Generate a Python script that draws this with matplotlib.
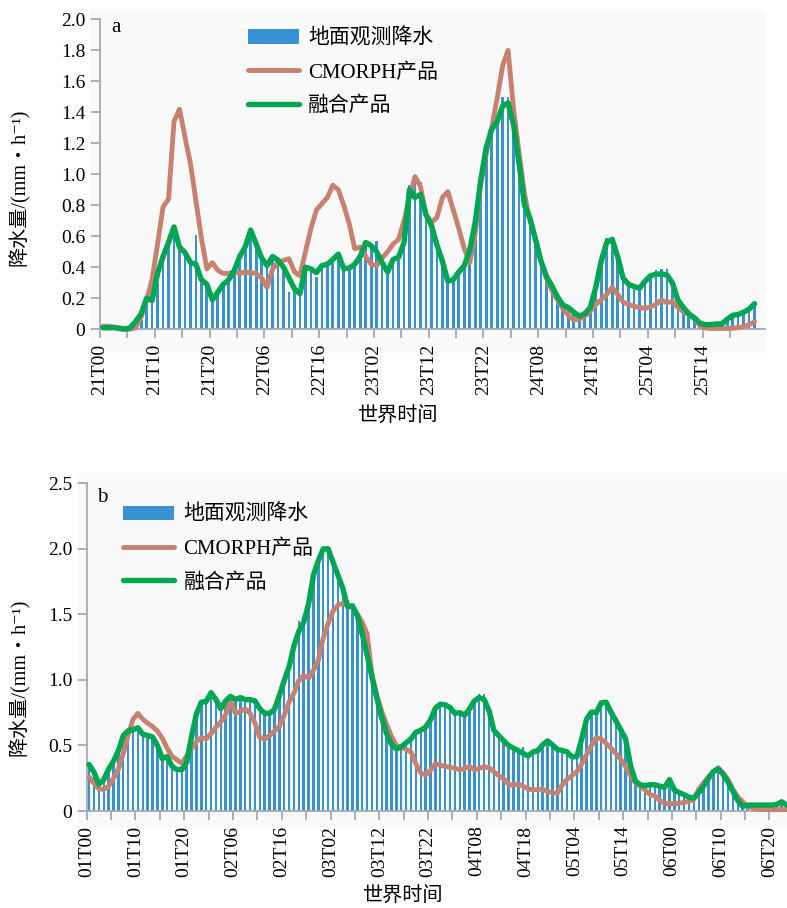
import numpy as np
import matplotlib.pyplot as plt

plt.rcParams['font.family'] = ['Liberation Serif', 'Noto Sans CJK SC', 'DejaVu Sans']

# ---- panel a: hourly precipitation, 21T00 - 25T23 (mm/h) ----
obs_a = [0, 0, 0, 0, 0, 0, 0, 0.06, 0.17, 0.18,
         0.30, 0.44, 0.55, 0.60, 0.55, 0.48, 0.42, 0.61, 0.31, 0.28,
         0.20, 0.23, 0.28, 0.31, 0.36, 0.45, 0.51, 0.60, 0.53, 0.45,
         0.40, 0.45, 0.43, 0.38, 0.24, 0.25, 0.22, 0.39, 0.38, 0.335,
         0.40, 0.41, 0.44, 0.47, 0.38, 0.39, 0.41, 0.46, 0.55, 0.53,
         0.57, 0.42, 0.36, 0.44, 0.45, 0.55, 0.93, 0.95, 0.95, 0.72,
         0.66, 0.53, 0.43, 0.30, 0.31, 0.36, 0.40, 0.50, 0.68, 0.95,
         1.15, 1.28, 1.33, 1.50, 1.50, 1.30, 1.05, 0.79, 0.70, 0.57,
         0.43, 0.33, 0.27, 0.20, 0.15, 0.13, 0.10, 0.08, 0.09, 0.13,
         0.26, 0.43, 0.59, 0.59, 0.46, 0.32, 0.28, 0.27, 0.26, 0.30,
         0.34, 0.38, 0.39, 0.39, 0.29, 0.18, 0.13, 0.09, 0.07, 0.03,
         0.02, 0.02, 0.03, 0.03, 0.06, 0.08, 0.09, 0.10, 0.12, 0.15]
cmorph_a = [0.02, 0.02, 0.015, 0.01, 0.005, 0.0, 0.01, 0.08, 0.19, 0.32,
            0.55, 0.79, 0.84, 1.34, 1.42, 1.24, 1.07, 0.83, 0.59, 0.39,
            0.43, 0.38, 0.36, 0.36, 0.37, 0.36, 0.37, 0.365, 0.36, 0.33,
            0.27, 0.39, 0.43, 0.445, 0.455, 0.37, 0.345, 0.50, 0.65, 0.77,
            0.81, 0.85, 0.93, 0.90, 0.80, 0.68, 0.52, 0.53, 0.47, 0.42,
            0.41, 0.46, 0.50, 0.55, 0.58, 0.70, 0.85, 0.985, 0.92, 0.74,
            0.69, 0.72, 0.85, 0.888, 0.77, 0.65, 0.52, 0.43, 0.62, 0.94,
            1.13, 1.30, 1.49, 1.70, 1.80, 1.42, 1.14, 0.87, 0.70, 0.58,
            0.44, 0.33, 0.25, 0.19, 0.135, 0.09, 0.06, 0.065, 0.085, 0.115,
            0.16, 0.19, 0.225, 0.27, 0.225, 0.175, 0.16, 0.148, 0.14, 0.135,
            0.145, 0.16, 0.19, 0.172, 0.18, 0.14, 0.115, 0.095, 0.065, 0.025,
            0.008, 0.005, 0.005, 0.005, 0.005, 0.006, 0.01, 0.018, 0.03, 0.048]
fusion_a = [0.01, 0.01, 0.01, 0.005, 0.0, 0.01, 0.05, 0.10, 0.20, 0.185,
            0.36, 0.47, 0.56, 0.66, 0.53, 0.495, 0.43, 0.42, 0.32, 0.29,
            0.19, 0.24, 0.29, 0.32, 0.38, 0.47, 0.53, 0.64, 0.55, 0.46,
            0.41, 0.47, 0.445, 0.40, 0.33, 0.26, 0.23, 0.40, 0.39, 0.365,
            0.41, 0.42, 0.45, 0.485, 0.39, 0.395, 0.42, 0.47, 0.56, 0.54,
            0.50, 0.43, 0.37, 0.45, 0.465, 0.56, 0.90, 0.85, 0.87, 0.74,
            0.67, 0.545, 0.44, 0.31, 0.32, 0.37, 0.41, 0.51, 0.69, 0.96,
            1.17, 1.29, 1.34, 1.44, 1.46, 1.32, 1.07, 0.80, 0.716, 0.58,
            0.44, 0.34, 0.28, 0.21, 0.157, 0.14, 0.11, 0.085, 0.10, 0.14,
            0.27, 0.44, 0.56, 0.58, 0.47, 0.33, 0.29, 0.275, 0.265, 0.31,
            0.345, 0.355, 0.357, 0.35, 0.30, 0.19, 0.14, 0.10, 0.075, 0.04,
            0.03, 0.03, 0.034, 0.034, 0.065, 0.09, 0.095, 0.11, 0.13, 0.165]
labels_a = ['21T00', '21T10', '21T20', '22T06', '22T16', '23T02',
            '23T12', '23T22', '24T08', '24T18', '25T04', '25T14']
yticks_a = [0, 0.2, 0.4, 0.6, 0.8, 1.0, 1.2, 1.4, 1.6, 1.8, 2.0]
ylabels_a = ['0', '0.2', '0.4', '0.6', '0.8', '1.0', '1.2', '1.4', '1.6', '1.8', '2.0']

# ---- panel b: hourly precipitation, 01T00 - 06T23 (mm/h) ----
obs_b = [0.34, 0.29, 0.20, 0.23, 0.31, 0.37, 0.45, 0.56, 0.60, 0.61,
         0.62, 0.58, 0.57, 0.56, 0.49, 0.39, 0.41, 0.33, 0.31, 0.31,
         0.36, 0.55, 0.73, 0.82, 0.83, 0.90, 0.84, 0.77, 0.83, 0.87,
         0.84, 0.86, 0.84, 0.84, 0.83, 0.77, 0.73, 0.73, 0.77, 0.87,
         0.98, 1.08, 1.24, 1.45, 1.43, 1.56, 1.78, 1.90, 1.99, 1.99,
         1.89, 1.78, 1.69, 1.55, 1.56, 1.48, 1.34, 1.18, 1.01, 0.85,
         0.70, 0.58, 0.50, 0.47, 0.48, 0.51, 0.54, 0.59, 0.61, 0.63,
         0.69, 0.78, 0.81, 0.80, 0.78, 0.74, 0.74, 0.72, 0.77, 0.83,
         0.89, 0.89, 0.76, 0.61, 0.57, 0.53, 0.50, 0.47, 0.46, 0.49,
         0.42, 0.44, 0.45, 0.50, 0.54, 0.50, 0.46, 0.46, 0.44, 0.41,
         0.41, 0.54, 0.69, 0.75, 0.74, 0.82, 0.84, 0.75, 0.68, 0.61,
         0.54, 0.34, 0.22, 0.19, 0.19, 0.20, 0.20, 0.19, 0.18, 0.23,
         0.15, 0.13, 0.12, 0.10, 0.10, 0.13, 0.18, 0.24, 0.29, 0.31,
         0.27, 0.21, 0.14, 0.07, 0.03, 0.04, 0.04, 0.04, 0.04, 0.04,
         0.05, 0.05, 0.07, 0.05]
cmorph_b = [0.26, 0.21, 0.17, 0.165, 0.19, 0.25, 0.32, 0.44, 0.58, 0.70,
            0.745, 0.70, 0.67, 0.645, 0.61, 0.555, 0.48, 0.418, 0.39, 0.364,
            0.42, 0.475, 0.53, 0.56, 0.55, 0.59, 0.64, 0.68, 0.735, 0.835,
            0.745, 0.76, 0.78, 0.745, 0.67, 0.56, 0.55, 0.575, 0.61, 0.645,
            0.73, 0.83, 0.90, 0.995, 1.035, 1.013, 1.075, 1.15, 1.32, 1.43,
            1.525, 1.57, 1.585, 1.57, 1.55, 1.50, 1.44, 1.35, 1.04, 0.88,
            0.76, 0.66, 0.57, 0.50, 0.49, 0.47, 0.45, 0.36, 0.29, 0.275,
            0.31, 0.36, 0.35, 0.34, 0.335, 0.325, 0.315, 0.325, 0.34, 0.315,
            0.325, 0.338, 0.33, 0.30, 0.27, 0.245, 0.205, 0.195, 0.205, 0.19,
            0.17, 0.16, 0.165, 0.165, 0.15, 0.14, 0.135, 0.198, 0.24, 0.27,
            0.30, 0.36, 0.43, 0.50, 0.56, 0.55, 0.515, 0.48, 0.44, 0.395,
            0.338, 0.27, 0.215, 0.19, 0.16, 0.125, 0.115, 0.08, 0.06, 0.054,
            0.055, 0.06, 0.065, 0.075, 0.09, 0.165, 0.215, 0.26, 0.30, 0.33,
            0.29, 0.24, 0.165, 0.11, 0.07, 0.035, 0.025, 0.015, 0.01, 0.01,
            0.01, 0.01, 0.01, 0.01]
fusion_b = [0.355, 0.295, 0.205, 0.24, 0.32, 0.38, 0.46, 0.575, 0.613, 0.62,
            0.635, 0.585, 0.576, 0.565, 0.50, 0.40, 0.415, 0.34, 0.316, 0.316,
            0.37, 0.567, 0.74, 0.83, 0.835, 0.903, 0.85, 0.78, 0.84, 0.875,
            0.85, 0.865, 0.85, 0.85, 0.84, 0.78, 0.745, 0.745, 0.775, 0.88,
            0.995, 1.10, 1.26, 1.37, 1.44, 1.58, 1.80, 1.91, 2.0, 2.0,
            1.90, 1.80, 1.70, 1.56, 1.565, 1.49, 1.35, 1.19, 1.02, 0.86,
            0.71, 0.59, 0.51, 0.473, 0.49, 0.52, 0.55, 0.60, 0.616, 0.64,
            0.695, 0.784, 0.815, 0.81, 0.79, 0.745, 0.75, 0.73, 0.78, 0.84,
            0.865, 0.85, 0.765, 0.615, 0.575, 0.535, 0.50, 0.48, 0.46, 0.44,
            0.42, 0.45, 0.46, 0.505, 0.535, 0.505, 0.47, 0.462, 0.45, 0.413,
            0.415, 0.55, 0.70, 0.755, 0.75, 0.825, 0.83, 0.755, 0.69, 0.62,
            0.55, 0.35, 0.23, 0.20, 0.193, 0.20, 0.20, 0.19, 0.18, 0.24,
            0.16, 0.14, 0.125, 0.105, 0.10, 0.14, 0.19, 0.25, 0.30, 0.32,
            0.28, 0.22, 0.15, 0.08, 0.035, 0.045, 0.045, 0.045, 0.045, 0.045,
            0.045, 0.05, 0.07, 0.046]
labels_b = ['01T00', '01T10', '01T20', '02T06', '02T16', '03T02', '03T12', '03T22',
            '04T08', '04T18', '05T04', '05T14', '06T00', '06T10', '06T20']
yticks_b = [0, 0.5, 1.0, 1.5, 2.0, 2.5]
ylabels_b = ['0', '0.5', '1.0', '1.5', '2.0', '2.5']

legend_names = ['地面观测降水', 'CMORPH产品', '融合产品']
BAR = '#3892d2'
RED = '#c8806f'
GREEN = '#00a651'
AXC = '#a3aab3'


def draw_panel(ax, obs, cmorph, fusion, xlabels, yticks, ylabels, xlim, ylim,
               tag, tag_xy, ylab_xy, xlab_xy, leg_anchor):
    x = np.arange(len(obs)) + 0.5
    ax.set_facecolor('#f9f9f9')
    bars = ax.bar(x, obs, width=0.5, color=BAR, linewidth=0, zorder=2)
    l_red, = ax.plot(x, cmorph, color=RED, lw=3.5, solid_joinstyle='round',
                     solid_capstyle='round', zorder=3)
    l_green, = ax.plot(x, fusion, color=GREEN, lw=3.9, solid_joinstyle='round',
                       solid_capstyle='round', zorder=4)

    ax.set_xlim(*xlim)
    ax.set_ylim(*ylim)
    for s in ['top', 'right']:
        ax.spines[s].set_visible(False)
    ax.spines['left'].set_position(('data', 0))
    ax.spines['bottom'].set_position(('data', 0))
    ax.spines['left'].set_bounds(0, yticks[-1])
    ax.spines['bottom'].set_bounds(0, xlim[1])
    for s in ['left', 'bottom']:
        ax.spines[s].set_color(AXC)
        ax.spines[s].set_linewidth(1.3)

    major = np.arange(len(xlabels)) * 10
    ax.set_xticks(major)
    ax.set_xticklabels(xlabels, rotation=90, fontsize=14)
    ax.set_xticks(np.arange(5, xlim[1], 10), minor=True)
    ax.set_yticks(yticks)
    ax.set_yticklabels(ylabels, fontsize=14)
    ax.tick_params(which='both', direction='out', color=AXC, width=1.3,
                   length=6.5, pad=4)

    ax.set_ylabel('降水量/(mm・h⁻¹)', fontsize=14.5)
    ax.yaxis.set_label_coords(*ylab_xy)
    ax.set_xlabel('世界时间', fontsize=14.5)
    ax.xaxis.set_label_coords(*xlab_xy)
    ax.text(tag_xy[0], tag_xy[1], tag, transform=ax.transAxes, fontsize=15,
            ha='center', va='center')

    ax.legend([bars, l_red, l_green], legend_names, loc='upper left',
              bbox_to_anchor=leg_anchor, bbox_transform=ax.transData,
              frameon=False, fontsize=15, handlelength=2.45,
              handletextpad=0.45, labelspacing=0.68, borderpad=0,
              borderaxespad=0)


fig = plt.figure(figsize=(7.87, 9.08), dpi=100)
ax_a = fig.add_axes([0.1144, 0.6116, 0.8576, 0.3774])
ax_b = fig.add_axes([0.0982, 0.0895, 0.9018, 0.3892])

draw_panel(ax_a, obs_a, cmorph_a, fusion_a, labels_a, yticks_a, ylabels_a,
           (-1.83, 121.4), (-0.151, 2.06), 'a', (0.0385, 0.9475),
           (-0.089, 0.4835), (0.456, -0.161), (27.0, 1.94))
draw_panel(ax_b, obs_b, cmorph_b, fusion_b, labels_b, yticks_b, ylabels_b,
           (-1.93, 143.6), (-0.12, 2.576), 'b', (0.0348, 0.933),
           (-0.0667, 0.422), (0.459, -0.173), (7.44, 2.335))

fig.savefig('out.png', dpi=100)
